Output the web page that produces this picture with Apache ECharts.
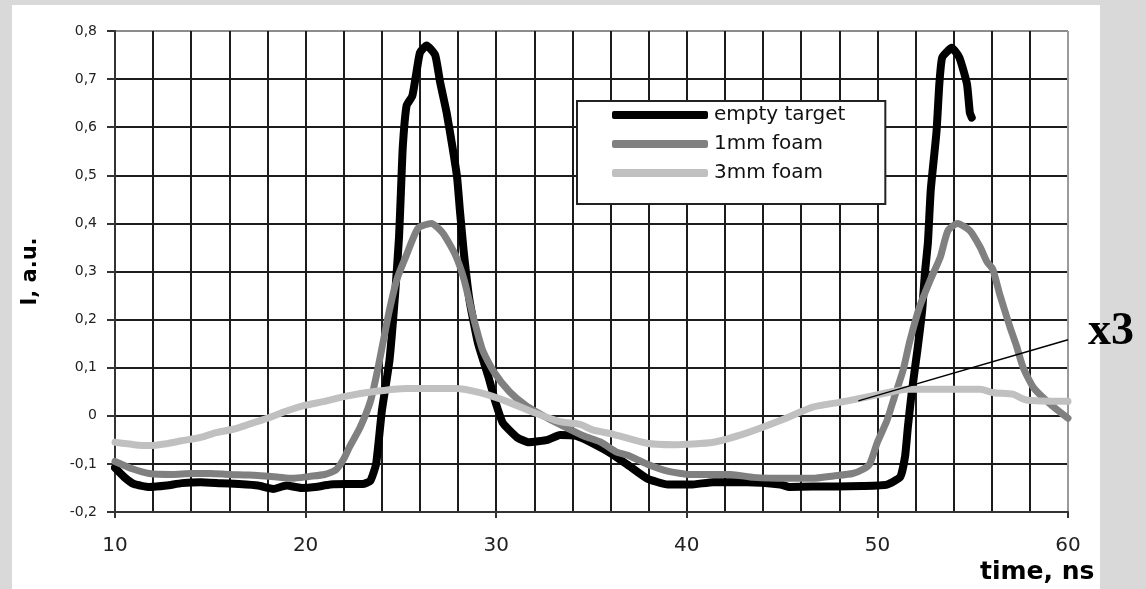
<!DOCTYPE html>
<html>
<head>
<meta charset="utf-8">
<title>I, a.u. vs time, ns</title>
<script src="https://cdn.jsdelivr.net/npm/echarts@6.0.0/dist/echarts.min.js"></script>
<style>
  html, body { margin: 0; padding: 0; }
  body { width: 1146px; height: 589px; background: #d9d9d9; position: relative; overflow: hidden; }
  #panel { position: absolute; left: 12px; top: 5px; width: 1088px; height: 584px; background: #fff; }
  #chart { position: absolute; left: 0; top: 0; width: 1146px; height: 589px; }
</style>
</head>
<body>
<div id="panel"></div>
<div id="chart"></div>
<script>
// empty target (black)
var emptyTime = [10, 10.5, 11, 11.8, 12.7, 13.5, 14.5, 15.5, 16.5, 17.5, 18.3, 19, 19.8, 20.5, 21.3, 22.2, 23, 23.4, 23.7,
  24, 24.4, 24.7, 24.9, 25, 25.1, 25.3, 25.6, 25.8, 26, 26.35, 26.8, 27.05, 27.4, 27.7, 27.95, 28.1, 28.3, 28.6, 29.05,
  29.6, 29.95, 30.35, 31.1, 31.7, 32.7, 33.35, 34.2, 35.2, 36.1, 37, 37.9, 39, 40.2, 41.4, 43.2, 44.9, 45.4, 46.6, 47.9,
  49.2, 50.5, 51.2, 51.45, 51.6, 51.8, 52.1, 52.35, 52.5, 52.65, 52.8, 53.1, 53.25, 53.4, 53.9, 54.3, 54.7, 54.85, 54.95];
var emptyI = [-0.108, -0.128, -0.142, -0.148, -0.145, -0.14, -0.138, -0.14, -0.142, -0.145, -0.152, -0.145, -0.15, -0.148, -0.143, -0.142, -0.142, -0.135, -0.1,
  0.01, 0.115, 0.255, 0.37, 0.465, 0.56, 0.645, 0.665, 0.71, 0.755, 0.77, 0.75, 0.695, 0.63, 0.56, 0.495, 0.425, 0.34, 0.24, 0.15,
  0.08, 0.03, -0.015, -0.045, -0.055, -0.05, -0.04, -0.042, -0.06, -0.08, -0.105, -0.13, -0.143, -0.143, -0.138, -0.138, -0.143, -0.148, -0.147, -0.147,
  -0.146, -0.143, -0.127, -0.085, -0.023, 0.048, 0.137, 0.22, 0.3, 0.36, 0.47, 0.59, 0.69, 0.745, 0.765, 0.745, 0.69, 0.63, 0.62];

// 1mm foam (gray)
var foam1Time = [10, 10.9, 11.8, 13, 14, 15, 16, 17, 18.5, 19.3, 20.2, 21, 21.6, 22, 22.3, 22.85, 23.4, 23.75, 24.05, 24.4,
  24.8, 25.3, 25.9, 26.6, 27.2, 27.85, 28.3, 28.8, 29.3, 29.9, 30.7, 31.6, 32.7, 33.7, 34.6, 35.5, 36.3, 36.9, 37.9, 39,
  40.2, 42.3, 43.5, 45.3, 46.6, 47.7, 48.7, 49.3, 49.6, 50, 50.5, 50.9, 51.35, 51.7, 52.2, 52.75, 53.3, 53.7, 54.2, 54.85,
  55.4, 55.75, 56.05, 56.4, 56.95, 57.3, 57.65, 58.2, 59.05, 60];
var foam1I = [-0.095, -0.11, -0.12, -0.122, -0.12, -0.12, -0.122, -0.123, -0.127, -0.13, -0.126, -0.122, -0.112, -0.09, -0.065, -0.025, 0.03, 0.09, 0.15, 0.22,
  0.285, 0.335, 0.39, 0.4, 0.38, 0.335, 0.285, 0.205, 0.135, 0.09, 0.05, 0.02, -0.005, -0.025, -0.042, -0.055, -0.075, -0.082, -0.1, -0.115,
  -0.122, -0.122, -0.128, -0.13, -0.13, -0.125, -0.12, -0.11, -0.1, -0.055, -0.01, 0.04, 0.095, 0.155, 0.225, 0.28, 0.33, 0.385, 0.4, 0.385,
  0.35, 0.32, 0.305, 0.255, 0.185, 0.145, 0.1, 0.058, 0.025, -0.005];

// 3mm foam (light gray)
var foam3Time = [10, 11, 11.8, 12.7, 13.5, 14.5, 15.3, 16.2, 17, 18, 19, 20, 21, 22, 23.5, 25.3, 27.9, 29.15, 30.55, 31.9,
  33.35, 34.4, 35.1, 36.1, 37.9, 39.3, 41.4, 43.2, 44.9, 46.6, 48, 48.7, 50.5, 51.55, 53.65, 55.4, 56.1, 57.1, 57.8, 60];
var foam3I = [-0.055, -0.06, -0.062, -0.058, -0.052, -0.045, -0.035, -0.028, -0.018, -0.005, 0.01, 0.022, 0.03, 0.04, 0.05, 0.057, 0.057, 0.048, 0.03, 0.008,
  -0.012, -0.018, -0.03, -0.038, -0.057, -0.06, -0.055, -0.035, -0.01, 0.018, 0.028, 0.033, 0.048, 0.055, 0.055, 0.055, 0.048, 0.045, 0.033, 0.03];

var seriesNames = ['empty target', '1mm foam', '3mm foam'];
// callout line for the "x3" note, in data units
var calloutFrom = [49, 0.031];
var calloutTo = [60, 0.158];

function zip(xs, ys) {
  return xs.map(function (x, i) { return [x, ys[i]]; });
}

var font = 'DejaVu Sans';
var dark = '#1c1c1c';

var chart = echarts.init(document.getElementById('chart'), null, { renderer: 'canvas' });
var option = {
  animation: false,
  backgroundColor: 'transparent',
  textStyle: { fontFamily: font, color: '#000' },
  grid: { left: 115, right: 78, top: 31, bottom: 77, containLabel: false },
  legend: {
    orient: 'vertical',
    left: 577,
    top: 101,
    padding: [3, 40, 20, 35],
    itemGap: 7,
    itemWidth: 96,
    itemHeight: 8,
    icon: 'roundRect',
    backgroundColor: '#fff',
    borderColor: '#222',
    borderWidth: 2,
    borderRadius: 0,
    data: seriesNames,
    textStyle: { fontFamily: font, fontSize: 20, lineHeight: 22, color: '#111', padding: [0, 0, 0, 1] }
  },
  xAxis: {
    type: 'value',
    min: 10,
    max: 60,
    interval: 10,
    axisLine: { show: true, onZero: false, lineStyle: { color: '#333', width: 2 } },
    axisTick: { show: true, length: 6, lineStyle: { color: '#333', width: 2 } },
    axisLabel: { fontFamily: font, fontSize: 20, color: '#222', margin: 24 },
    splitLine: { show: true, lineStyle: { color: [dark, dark, dark, dark, dark, '#9a9a9a'], width: 2 } },
    minorTick: { show: false, splitNumber: 5 },
    minorSplitLine: { show: true, lineStyle: { color: dark, width: 2 } }
  },
  yAxis: {
    type: 'value',
    min: -0.2,
    max: 0.8,
    interval: 0.1,
    name: 'I, a.u.',
    nameLocation: 'middle',
    nameGap: 74,
    nameTextStyle: { fontFamily: font, fontSize: 21, fontWeight: 'bold', color: '#000' },
    axisLine: { show: true, lineStyle: { color: '#333', width: 2 } },
    axisTick: { show: true, length: 8, lineStyle: { color: '#333', width: 2 } },
    axisLabel: {
      fontFamily: font, fontSize: 14, color: '#222', margin: 18,
      formatter: function (v) {
        var r = Math.round(v * 10) / 10;
        return r === 0 ? '0' : r.toFixed(1).replace('.', ',');
      }
    },
    splitLine: {
      show: true,
      lineStyle: { color: [dark, dark, dark, dark, dark, dark, dark, dark, dark, dark, '#8c8c8c'], width: 2 }
    }
  },
  series: [
    {
      name: seriesNames[0], type: 'line', data: zip(emptyTime, emptyI),
      showSymbol: false, symbol: 'none', smooth: 0.15, color: '#000',
      lineStyle: { color: '#000', width: 8, cap: 'round', join: 'round' },
      emphasis: { disabled: true }, z: 2
    },
    {
      name: seriesNames[1], type: 'line', data: zip(foam1Time, foam1I),
      showSymbol: false, symbol: 'none', smooth: 0.2, color: '#808080',
      lineStyle: { color: '#808080', width: 7, cap: 'round', join: 'round' },
      emphasis: { disabled: true }, z: 3
    },
    {
      name: seriesNames[2], type: 'line', data: zip(foam3Time, foam3I),
      showSymbol: false, symbol: 'none', smooth: 0.2, color: '#c0c0c0', clip: false,
      lineStyle: { color: '#c0c0c0', width: 7, cap: 'round', join: 'round' },
      emphasis: { disabled: true }, z: 4,
      markLine: {
        silent: true,
        symbol: ['none', 'none'],
        label: { show: false },
        lineStyle: { color: '#000', width: 1.5, type: 'solid' },
        data: [[{ coord: calloutFrom }, { coord: calloutTo }]]
      }
    }
  ],
  graphic: [
    {
      type: 'text', left: 980, top: 560, z: 10,
      style: { text: 'time, ns', font: 'bold 25px "DejaVu Sans"', fill: '#000' }
    },
    {
      type: 'text', left: 1088, top: 309, z: 10,
      style: { text: 'x3', font: 'bold 46px "Liberation Serif"', fill: '#000' }
    }
  ]
};
chart.setOption(option);
</script>
</body>
</html>
